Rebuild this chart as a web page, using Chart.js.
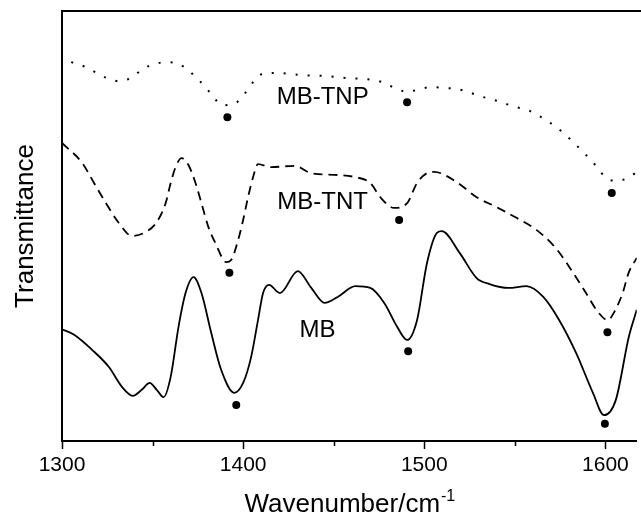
<!DOCTYPE html>
<html>
<head>
<meta charset="utf-8">
<script src="https://cdn.jsdelivr.net/npm/chart.js@4.4.1/dist/chart.umd.min.js"></script>
<style>
  html, body { margin: 0; padding: 0; background: #fff; }
  #wrap { width: 641px; height: 517px; position: relative; }
</style>
</head>
<body>
<div id="wrap"><canvas id="ftirChart"></canvas></div>
<script>
// FTIR spectra, 1300-1620 cm-1 (transmittance in arbitrary units, curves offset)
var mbWn = [1300, 1306.7, 1316.6, 1325.9, 1333.1, 1339.1, 1344.0, 1348.4, 1352.3, 1356.1, 1360.0, 1364.3, 1368.2, 1372.6, 1377.0, 1382.4, 1387.9, 1395.1, 1400.0, 1404.4, 1408.2, 1411.0, 1414.3, 1420.3, 1430.2, 1437.3, 1445.0, 1452.2, 1462.0, 1470.2, 1477.9, 1485.1, 1490.5, 1496.0, 1501.5, 1507.0, 1509.7, 1519.6, 1528.9, 1536.0, 1546.5, 1556.4, 1565.7, 1574.5, 1583.8, 1593.1, 1599.2, 1605.7, 1612.9, 1617.3];
var mbT = [26.0, 24.7, 21.2, 17.2, 12.6, 10.5, 11.9, 13.5, 11.9, 10.2, 14.9, 26.5, 34.4, 38.1, 34.4, 25.1, 16.5, 11.2, 13.5, 19.5, 28.1, 34.4, 36.3, 34.4, 39.5, 35.8, 32.1, 33.5, 36.0, 35.6, 32.1, 26.5, 23.5, 28.1, 41.4, 48.4, 48.8, 43.7, 37.9, 36.5, 35.6, 36.0, 33.5, 28.1, 20.5, 11.2, 6.0, 9.5, 24.2, 30.5];

var tntWn = [1300, 1311.1, 1317.7, 1324.3, 1331.4, 1338.6, 1346.2, 1352.3, 1357.2, 1360.0, 1362.7, 1366.0, 1369.8, 1373.7, 1377.0, 1380.8, 1384.7, 1390.7, 1393.4, 1397.2, 1400.0, 1402.7, 1405.5, 1408.2, 1415.4, 1428.5, 1437.3, 1450.5, 1461.5, 1470.2, 1475.7, 1483.4, 1490.5, 1496.0, 1501.5, 1505.3, 1517.9, 1528.9, 1539.9, 1550.9, 1561.9, 1572.9, 1582.2, 1589.3, 1595.9, 1601.4, 1604.6, 1609.5, 1612.8, 1617.3];
var tntT = [69.3, 64.7, 60.0, 55.3, 50.7, 47.7, 48.6, 50.9, 55.3, 60.0, 63.7, 65.8, 64.2, 60.0, 55.3, 49.8, 46.0, 41.6, 42.1, 46.7, 51.4, 56.7, 61.4, 64.4, 63.7, 64.0, 62.3, 61.9, 61.4, 60.0, 56.7, 54.2, 55.3, 60.0, 62.3, 62.6, 60.2, 56.7, 54.4, 51.9, 49.1, 44.7, 39.1, 34.4, 30.0, 28.1, 29.8, 34.4, 39.1, 42.6];

var tnpWn = [1305.1, 1311.7, 1318.3, 1324.8, 1331.4, 1338.0, 1344.6, 1351.2, 1357.8, 1364.3, 1370.9, 1377.0, 1382.4, 1388.5, 1395.1, 1401.1, 1406.0, 1412.1, 1419.2, 1431.8, 1445.0, 1457.6, 1471.3, 1477.9, 1484.5, 1491.1, 1497.7, 1504.3, 1510.8, 1517.4, 1524.0, 1530.6, 1537.1, 1543.7, 1550.3, 1556.9, 1563.5, 1569.5, 1576.1, 1582.7, 1589.3, 1594.8, 1600.3, 1606.3, 1613.4, 1617.3];
var tnpT = [88.1, 87.2, 85.8, 84.4, 83.7, 84.4, 86.5, 87.7, 88.1, 87.7, 85.8, 83.3, 80.7, 78.1, 78.4, 80.9, 83.7, 85.6, 85.6, 85.1, 84.9, 84.4, 84.0, 83.3, 81.9, 81.2, 81.9, 82.3, 82.1, 81.9, 81.2, 80.2, 79.5, 78.6, 77.7, 77.0, 75.6, 74.0, 71.9, 69.3, 66.5, 64.0, 61.2, 60.5, 61.4, 62.6];

// marked bands (dots under each minimum)
var peakWn = [1396.2, 1491.1, 1599.7, 1392.4, 1486.1, 1601.1, 1391.3, 1490.5, 1603.5];
var peakT = [8.4, 20.9, 4.0, 39.1, 51.4, 25.3, 75.3, 78.8, 57.7];

// curve names written inside the plot
var seriesNames = ['MB', 'MB-TNT', 'MB-TNP'];
var nameWn = [1441.1, 1443.9, 1443.9];
var nameT = [25.8, 55.6, 79.8];

var xTicks = [1300, 1400, 1500, 1600];
var xMinorTicks = [1350, 1450, 1550];

var FONT = '"Liberation Sans", Arial, Helvetica, sans-serif';

function toPoints(xs, ys) {
    return xs.map(function (x, i) { return { x: x, y: ys[i] }; });
}

function lineSet(label, xs, ys, dash, width) {
    return {
        label: label,
        data: toPoints(xs, ys),
        borderColor: '#000',
        borderWidth: width,
        borderDash: dash,
        pointRadius: 0,
        fill: false,
        cubicInterpolationMode: 'monotone'
    };
}

var decorations = {
    id: 'decorations',
    afterDatasetsDraw: function (chart) {
        var ctx = chart.ctx, xs = chart.scales.x, ys = chart.scales.y;
        ctx.save();
        ctx.fillStyle = '#000';
        ctx.font = '24px ' + FONT;
        ctx.textAlign = 'center';
        ctx.textBaseline = 'middle';
        for (var i = 0; i < seriesNames.length; i++) {
            ctx.fillText(seriesNames[i], xs.getPixelForValue(nameWn[i]), ys.getPixelForValue(nameT[i]));
        }
        ctx.restore();
    },
    afterDraw: function (chart) {
        var ctx = chart.ctx, xs = chart.scales.x, area = chart.chartArea;
        ctx.save();
        ctx.strokeStyle = '#000';
        // top frame line
        ctx.lineWidth = 2;
        ctx.beginPath();
        ctx.moveTo(area.left - 1, area.top);
        ctx.lineTo(chart.width, area.top);
        ctx.stroke();
        // tick marks below the x axis
        ctx.lineWidth = 1.5;
        var marks = xTicks.map(function (v) { return [v, 8]; })
            .concat(xMinorTicks.map(function (v) { return [v, 5]; }));
        marks.forEach(function (m) {
            var px = Math.round(xs.getPixelForValue(m[0])) + 0.5;
            ctx.beginPath();
            ctx.moveTo(px, area.bottom);
            ctx.lineTo(px, area.bottom + m[1]);
            ctx.stroke();
        });
        // x axis title with superscript
        ctx.fillStyle = '#000';
        ctx.textBaseline = 'alphabetic';
        ctx.textAlign = 'left';
        var main = 'Wavenumber/cm', sup = '-1';
        ctx.font = '26px ' + FONT;
        var w1 = ctx.measureText(main).width;
        ctx.font = '16px ' + FONT;
        var w2 = ctx.measureText(sup).width;
        var x0 = (area.left + area.right) / 2 - (w1 + w2) / 2;
        var base = 512;
        ctx.font = '26px ' + FONT;
        ctx.fillText(main, x0, base);
        ctx.font = '16px ' + FONT;
        ctx.fillText(sup, x0 + w1 + 1, base - 11);
        ctx.restore();
    }
};

new Chart(document.getElementById('ftirChart'), {
    type: 'line',
    data: {
        datasets: [
            lineSet('MB', mbWn, mbT, [], 1.8),
            lineSet('MB-TNT', tntWn, tntT, [9, 6], 1.8),
            lineSet('MB-TNP', tnpWn, tnpT, [2, 10], 2),
            {
                type: 'scatter',
                label: 'bands',
                data: toPoints(peakWn, peakT),
                pointRadius: 4,
                pointBackgroundColor: '#000',
                pointBorderWidth: 0,
                showLine: false
            }
        ]
    },
    options: {
        responsive: true,
        maintainAspectRatio: false,
        animation: false,
        layout: { padding: { top: 11, right: 0, bottom: 0, left: 0 } },
        plugins: {
            legend: { display: false },
            tooltip: { enabled: false }
        },
        scales: {
            x: {
                type: 'linear',
                min: 1300,
                max: 1617.3,
                afterFit: function (s) { s.height = 76; },
                afterBuildTicks: function (s) {
                    s.ticks = xTicks.map(function (v) { return { value: v }; });
                },
                grid: { display: false, drawTicks: false },
                border: { display: true, color: '#000', width: 2 },
                ticks: {
                    color: '#000',
                    font: { family: FONT, size: 21 },
                    padding: 12,
                    maxRotation: 0,
                    callback: function (v) { return String(v); }
                }
            },
            y: {
                min: 0,
                max: 100,
                afterFit: function (s) { s.width = 62; },
                grid: { display: false, drawTicks: false },
                border: { display: true, color: '#000', width: 2 },
                ticks: { display: false },
                title: {
                    display: true,
                    text: 'Transmittance',
                    color: '#000',
                    font: { family: FONT, size: 26 },
                    padding: { top: 10, bottom: 0 }
                }
            }
        }
    },
    plugins: [decorations]
});
</script>
</body>
</html>
